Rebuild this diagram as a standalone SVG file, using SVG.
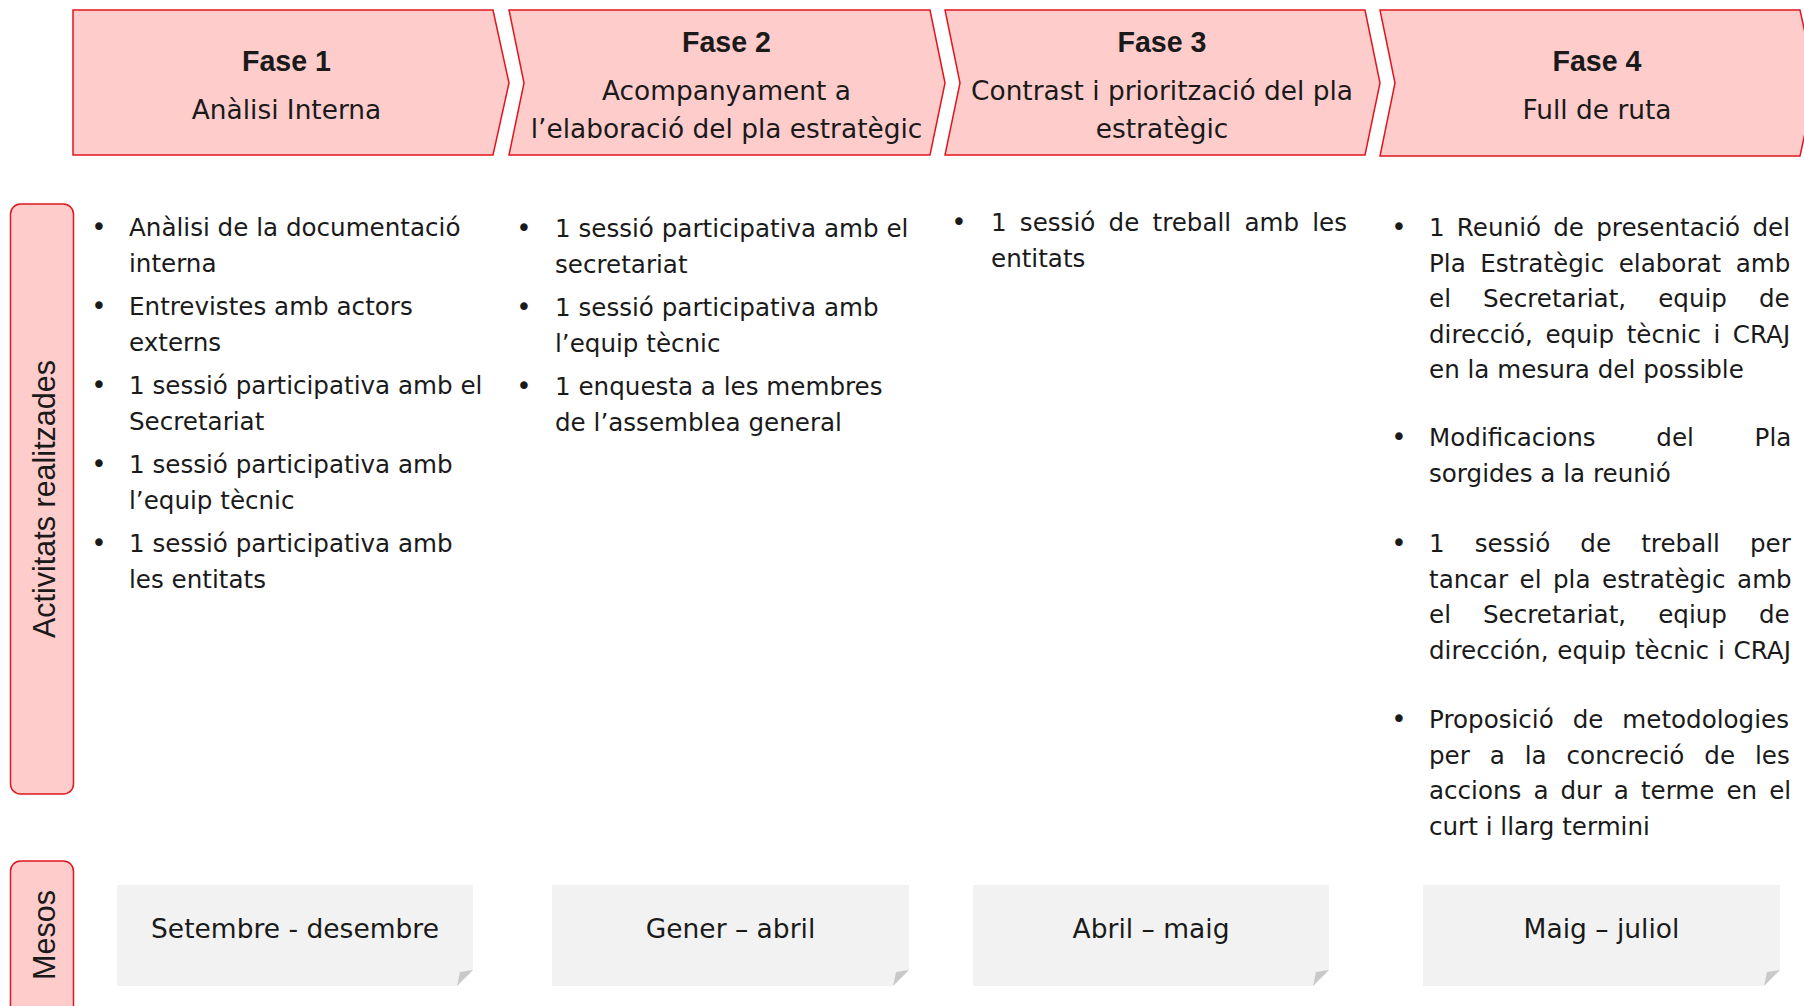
<svg xmlns="http://www.w3.org/2000/svg" width="1804" height="1006" viewBox="0 0 1804 1006">
<style>
.chev{fill:#ffcccc;stroke:#e0161e;stroke-width:1.5}
.lab{fill:#ffcccc;stroke:#e0161e;stroke-width:1.5}
.ph{font-family:"Liberation Sans",Arial,sans-serif;font-weight:bold;font-size:28.6px;fill:#1a1a1a;text-anchor:middle}
.pt{font-family:"DejaVu Sans",Verdana,sans-serif;font-size:26.4px;fill:#1a1a1a;text-anchor:middle}
.side{font-family:"Liberation Sans",Arial,sans-serif;font-size:30.5px;fill:#1a1a1a;text-anchor:middle}
.b{font-family:"DejaVu Sans",Verdana,sans-serif;font-size:24.6px;fill:#1a1a1a}
.dot{font-family:"DejaVu Sans",Verdana,sans-serif;font-size:26px;fill:#1a1a1a;text-anchor:middle}
.mb{fill:#f2f2f2}
.fold{fill:#c9c9c9}
.mt{font-family:"DejaVu Sans",Verdana,sans-serif;font-size:26.5px;fill:#1a1a1a;text-anchor:middle}
</style>
<rect width="1804" height="1006" fill="#ffffff"/>

<g id="fase1">
<path class="chev" d="M73,10 L493,10 L509,83 L493,155 L73,155 Z"/>
<text class="ph" x="286.5" y="71">Fase 1</text>
<text class="pt" x="286.5" y="119">Anàlisi Interna</text>
</g>
<g id="fase2">
<path class="chev" d="M509,10 L930,10 L945,83 L930,155 L509,155 L524,83 Z"/>
<text class="ph" x="726.5" y="52">Fase 2</text>
<text class="pt" x="726.5" y="100">Acompanyament a</text>
<text class="pt" x="726.5" y="137.5">l’elaboració del pla estratègic</text>
</g>
<g id="fase3">
<path class="chev" d="M945,10 L1365,10 L1380,83 L1365,155 L945,155 L960,83 Z"/>
<text class="ph" x="1162" y="52">Fase 3</text>
<text class="pt" x="1162" y="100">Contrast i priorització del pla</text>
<text class="pt" x="1162" y="137.5">estratègic</text>
</g>
<g id="fase4">
<path class="chev" d="M1380,10 L1800,10 L1816,83 L1800,156 L1380,156 L1395,83 Z"/>
<text class="ph" x="1597" y="71">Fase 4</text>
<text class="pt" x="1597" y="119">Full de ruta</text>
</g>

<g id="label-activitats">
<rect class="lab" x="10.5" y="204" width="63" height="590" rx="10"/>
<text class="side" transform="translate(55,499) rotate(-90)">Activitats realitzades</text>
</g>
<g id="label-mesos">
<rect class="lab" x="10.5" y="861" width="63" height="160" rx="10"/>
<text class="side" transform="translate(55,935) rotate(-90)">Mesos</text>
</g>

<g id="activitats-fase1">
<text class="dot" x="99" y="236">•</text>
<text class="b" x="129" y="236">Anàlisi de la documentació</text>
<text class="b" x="129" y="271.5">interna</text>
<text class="dot" x="99" y="315">•</text>
<text class="b" x="129" y="315">Entrevistes amb actors</text>
<text class="b" x="129" y="350.5">externs</text>
<text class="dot" x="99" y="394">•</text>
<text class="b" x="129" y="394">1 sessió participativa amb el</text>
<text class="b" x="129" y="429.5">Secretariat</text>
<text class="dot" x="99" y="473">•</text>
<text class="b" x="129" y="473">1 sessió participativa amb</text>
<text class="b" x="129" y="508.5">l’equip tècnic</text>
<text class="dot" x="99" y="552">•</text>
<text class="b" x="129" y="552">1 sessió participativa amb</text>
<text class="b" x="129" y="587.5">les entitats</text>
</g>

<g id="activitats-fase2">
<text class="dot" x="524" y="237">•</text>
<text class="b" x="555" y="237">1 sessió participativa amb el</text>
<text class="b" x="555" y="272.5">secretariat</text>
<text class="dot" x="524" y="316">•</text>
<text class="b" x="555" y="316">1 sessió participativa amb</text>
<text class="b" x="555" y="351.5">l’equip tècnic</text>
<text class="dot" x="524" y="395">•</text>
<text class="b" x="555" y="395">1 enquesta a les membres</text>
<text class="b" x="555" y="430.5">de l’assemblea general</text>
</g>

<g id="activitats-fase3">
<text class="dot" x="959" y="231">•</text>
<text class="b" x="991" y="231" word-spacing="5.4">1 sessió de treball amb les</text>
<text class="b" x="991" y="266.5">entitats</text>
</g>

<g id="activitats-fase4">
<text class="dot" x="1399" y="236">•</text>
<text class="b" x="1429" y="236" word-spacing="4.4">1 Reunió de presentació del</text>
<text class="b" x="1429" y="271.5" word-spacing="6.7">Pla Estratègic elaborat amb</text>
<text class="b" x="1429" y="307" word-spacing="24.2">el Secretariat, equip de</text>
<text class="b" x="1429" y="342.5" word-spacing="4.7">direcció, equip tècnic i CRAJ</text>
<text class="b" x="1429" y="378">en la mesura del possible</text>
<text class="dot" x="1399" y="446">•</text>
<text class="b" x="1429" y="446" word-spacing="52.9">Modificacions del Pla</text>
<text class="b" x="1429" y="481.5">sorgides a la reunió</text>
<text class="dot" x="1399" y="552">•</text>
<text class="b" x="1429" y="552" word-spacing="22.3">1 sessió de treball per</text>
<text class="b" x="1429" y="587.5" word-spacing="3.7">tancar el pla estratègic amb</text>
<text class="b" x="1429" y="623" word-spacing="24.2">el Secretariat, eqiup de</text>
<text class="b" x="1429" y="658.5" word-spacing="1">dirección, equip tècnic i CRAJ</text>
<text class="dot" x="1399" y="728">•</text>
<text class="b" x="1429" y="728" word-spacing="11.1">Proposició de metodologies</text>
<text class="b" x="1429" y="763.5" word-spacing="12.1">per a la concreció de les</text>
<text class="b" x="1429" y="799" word-spacing="4.2">accions a dur a terme en el</text>
<text class="b" x="1429" y="834.5">curt i llarg termini</text>
</g>

<g id="mes1">
<path class="mb" d="M117,885 H473 V970 L457,986 H117 Z"/>
<path class="fold" d="M473,970 L460,972 L457,986 Z"/>
<text class="mt" x="295" y="938">Setembre - desembre</text>
</g>
<g id="mes2">
<path class="mb" d="M552,885 H909 V970 L893,986 H552 Z"/>
<path class="fold" d="M909,970 L896,972 L893,986 Z"/>
<text class="mt" x="730.5" y="938">Gener – abril</text>
</g>
<g id="mes3">
<path class="mb" d="M973,885 H1329 V970 L1313,986 H973 Z"/>
<path class="fold" d="M1329,970 L1316,972 L1313,986 Z"/>
<text class="mt" x="1151" y="938">Abril – maig</text>
</g>
<g id="mes4">
<path class="mb" d="M1423,885 H1780 V970 L1764,986 H1423 Z"/>
<path class="fold" d="M1780,970 L1767,972 L1764,986 Z"/>
<text class="mt" x="1601.5" y="938">Maig – juliol</text>
</g>

<g id="connectors"></g>
</svg>
